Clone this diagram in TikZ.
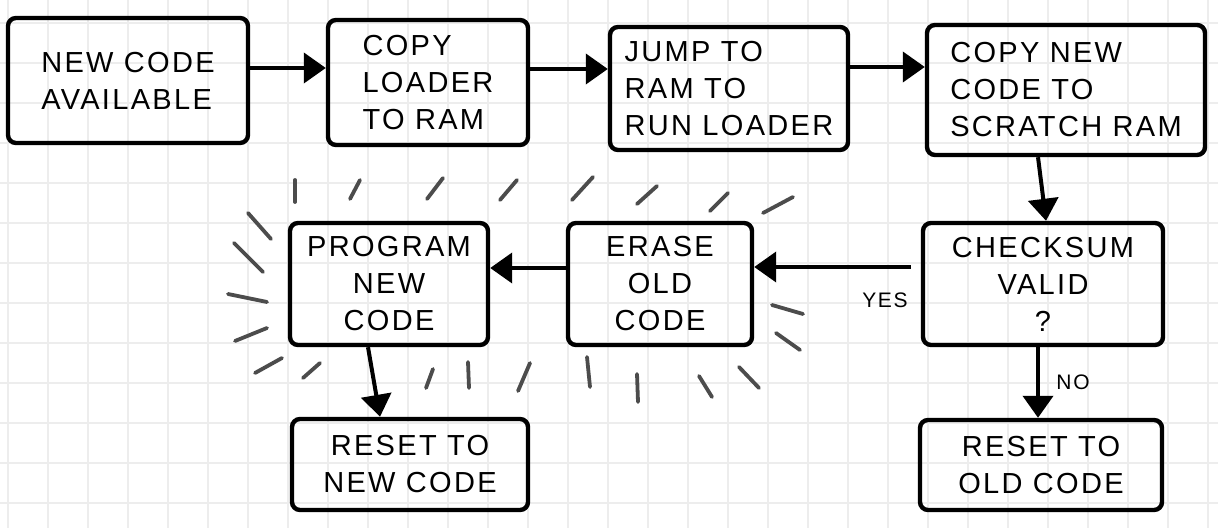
\documentclass[tikz,border=0pt]{standalone}
\usepackage{fontspec}
\setmainfont{Liberation Sans}[LetterSpace=8]
\usetikzlibrary{arrows.meta}
\definecolor{gridc}{HTML}{EDEDED}
\definecolor{pencil}{HTML}{4C4C4C}
\begin{document}
\begin{tikzpicture}[x=0.5pt,y=-0.5pt,
  box/.style={draw=black, line width=2.2pt, rounded corners=4pt, inner sep=0pt,
              font=\fontsize{14.5}{18.5}\selectfont},
  arr/.style={draw=black, line width=2pt, -{Triangle[length=11pt,width=15pt]}},
  ray/.style={draw=pencil, line width=1.9pt, line cap=round},
  lbl/.style={font=\fontsize{10.5}{12}\selectfont, inner sep=1pt}]
\useasboundingbox (0,0) rectangle (1218,528);
\fill[white] (0,0) rectangle (1218,528);
% grid paper
\foreach \gx in {8,48,...,1208} \draw[gridc, line width=0.6pt] (\gx,0) -- (\gx,528);
\foreach \gy in {23,63,...,503} \draw[gridc, line width=0.6pt] (0,\gy) -- (1218,\gy);

% boxes
\node[box, minimum width=120pt, minimum height=62.5pt, align=left] (b1) at (128,80.5) {NEW CODE\\AVAILABLE};
\node[box, minimum width=100pt, minimum height=62.5pt, align=left] (b2) at (428,82.5) {COPY\\LOADER\\TO RAM};
\node[box, minimum width=119pt, minimum height=61.5pt, align=left] (b3) at (729,88.5) {JUMP TO\\RAM TO\\RUN LOADER};
\node[box, minimum width=139pt, minimum height=65pt, align=left] (b4) at (1066,90) {COPY NEW\\CODE TO\\SCRATCH RAM};
\node[box, minimum width=120pt, minimum height=61pt, align=center] (b5) at (1043,284) {CHECKSUM\\VALID\\?};
\node[box, minimum width=92pt, minimum height=61pt, align=center] (b6) at (660,284) {ERASE\\OLD\\CODE};
\node[box, minimum width=99pt, minimum height=61pt, align=center] (b7) at (389,284) {PROGRAM\\NEW\\CODE};
\node[box, minimum width=118pt, minimum height=45.5pt, align=center] (b8) at (410,464.5) {RESET TO\\NEW CODE};
\node[box, minimum width=121pt, minimum height=45pt, align=center] (b9) at (1041,465) {RESET TO\\OLD CODE};

% connectors
\draw[arr] (b1.east |- 0,68) -- (b2.west |- 0,68);
\draw[arr] (b2.east |- 0,69) -- (b3.west |- 0,69);
\draw[arr] (b3.east |- 0,67) -- (b4.west |- 0,67);
\draw[arr] (b4.south -| 1038,0) -- (b5.north -| 1046,0);
\draw[arr, shorten <=5pt] (b5.west |- 0,267) -- (b6.east |- 0,267);
\draw[arr] (b6.west |- 0,268) -- (b7.east |- 0,268);
\draw[arr] (b7.south -| 368,0) -- (b8.north -| 380,0);
\draw[arr] (b5.south -| 1038,0) -- (b9.north -| 1038,0);

% labels
\node[lbl] (yes) at (885,300) {YES};
\node[lbl] (no) at (1073,382) {NO};

% radiating pencil strokes
\draw[ray] (295,180) -- (295,202);
\draw[ray] (360,180) -- (350,199);
\draw[ray] (443,178) -- (427,199);
\draw[ray] (517,180) -- (500,200);
\draw[ray] (572,200) -- (593,177);
\draw[ray] (637,204) -- (657,186);
\draw[ray] (710,211) -- (728,193);
\draw[ray] (763,213) -- (793,197);
\draw[ray] (248,213) -- (271,239);
\draw[ray] (234,243) -- (263,272);
\draw[ray] (228,294) -- (267,302);
\draw[ray] (235,341) -- (267,328);
\draw[ray] (255,373) -- (282,358);
\draw[ray] (303,378) -- (320,363);
\draw[ray] (426,388) -- (433,369);
\draw[ray] (468,362) -- (469,388);
\draw[ray] (518,391) -- (530,363);
\draw[ray] (587,357) -- (590,387);
\draw[ray] (637,374) -- (638,402);
\draw[ray] (699,376) -- (712,397);
\draw[ray] (739,367) -- (759,388);
\draw[ray] (772,305) -- (803,314);
\draw[ray] (776,333) -- (800,350);
\end{tikzpicture}
\end{document}
